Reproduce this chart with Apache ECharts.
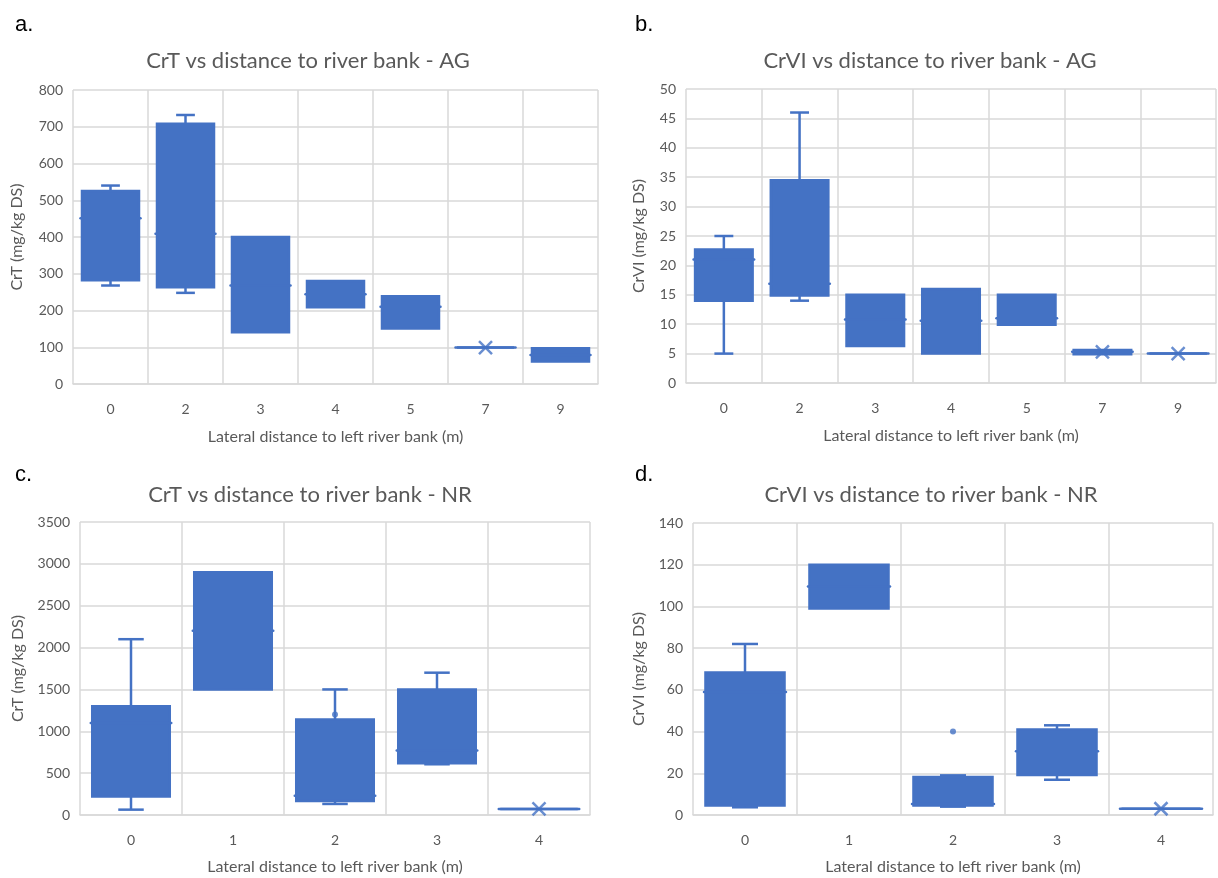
<!DOCTYPE html>
<html>
<head>
<meta charset="utf-8">
<script src="https://cdn.jsdelivr.net/npm/echarts@6/dist/echarts.min.js"></script>
<style>
  html, body { margin: 0; padding: 0; background: #ffffff; }
  #chart { width: 1218px; height: 878px; }
</style>
</head>
<body>
<div id="chart"></div>
<script>
// Category labels (lateral distance to left river bank, m)
const catsAG = ['0', '2', '3', '4', '5', '7', '9'];
const catsNR = ['0', '1', '2', '3', '4'];

// Box statistics per category: [min, Q1, median, Q3, max]
const crtAG = [
  [268, 282, 451, 525, 540],
  [248, 263, 409, 708, 732],
  [141, 141, 268, 400, 400],
  [209, 209, 244, 280, 280],
  [151, 151, 210, 239, 239],
  [99, 99, 99, 99, 99],
  [61, 61, 79, 97, 97]
];
const crviAG = [
  [5, 14, 21, 22.7, 25],
  [14, 14.9, 16.9, 34.5, 46],
  [6.3, 6.3, 10.8, 15, 15],
  [5, 5, 10.6, 16, 16],
  [9.9, 9.9, 11, 15, 15],
  [4.9, 4.9, 5.3, 5.6, 5.6],
  [5, 5, 5, 5, 5]
];
const crtNR = [
  [64, 220, 1100, 1300, 2100],
  [1500, 1500, 2200, 2900, 2900],
  [132, 168, 230, 1140, 1500],
  [606, 618, 770, 1500, 1700],
  [72, 72, 72, 72, 72]
];
const crviNR = [
  [3.7, 4.5, 59, 68.3, 82],
  [99, 99, 109.6, 120, 120],
  [4, 4.5, 5.3, 18.2, 19],
  [16.9, 19.2, 30.6, 41, 43],
  [3, 3, 3, 3, 3]
];

// Mean markers ("x") that show outside the boxes: [category index, mean]
const meanCrtAG = [[5, 99]];
const meanCrviAG = [[5, 5.3], [6, 5]];
const meanCrtNR = [[4, 72]];
const meanCrviNR = [[4, 3]];

// Single points drawn as dots: [category index, value]
const pointsCrtNR = [[2, 1200]];
const pointsCrviNR = [[2, 40]];

// Y axis ranges: [max, interval]
const yCrtAG = [800, 100];
const yCrviAG = [50, 5];
const yCrtNR = [3500, 500];
const yCrviNR = [140, 20];

const BLUE = '#4472C4';
const TEXT = '#595959';
const GRID = '#d9d9d9';
const FONT = 'Lato';
const X_NAME = 'Lateral distance to left river bank (m)';

function renderBox(params, api) {
  const idx = api.value(0);
  const vMin = api.value(1), q1 = api.value(2), med = api.value(3), q3 = api.value(4), vMax = api.value(5);
  const cx = api.coord([idx, 0])[0];
  const band = api.size([1, 0])[0];
  const boxW = band * 0.76;
  const capW = band * 0.25;
  const y = v => api.coord([idx, v])[1];
  const children = [];
  const lineStyle = { stroke: BLUE, lineWidth: 2.5, fill: null };
  // whiskers with end caps
  if (vMax > q3) {
    children.push({ type: 'line', shape: { x1: cx, y1: y(q3), x2: cx, y2: y(vMax) }, style: lineStyle });
    children.push({ type: 'line', shape: { x1: cx - capW / 2, y1: y(vMax), x2: cx + capW / 2, y2: y(vMax) }, style: lineStyle });
  }
  if (vMin < q1) {
    children.push({ type: 'line', shape: { x1: cx, y1: y(q1), x2: cx, y2: y(vMin) }, style: lineStyle });
    children.push({ type: 'line', shape: { x1: cx - capW / 2, y1: y(vMin), x2: cx + capW / 2, y2: y(vMin) }, style: lineStyle });
  }
  // interquartile box
  const top = y(q3), bot = y(q1);
  children.push({
    type: 'rect',
    shape: { x: cx - boxW / 2, y: top, width: boxW, height: Math.max(bot - top, 0) },
    style: { fill: BLUE, stroke: BLUE, lineWidth: 2.5 }
  });
  // median with small end marks
  children.push({
    type: 'line',
    shape: { x1: cx - boxW / 2 - 1.5, y1: y(med), x2: cx + boxW / 2 + 1.5, y2: y(med) },
    style: { stroke: BLUE, lineWidth: 2.5, lineCap: 'round' }
  });
  return { type: 'group', children };
}

const grids = [
  { left: 73, top: 90, width: 525, height: 294 },
  { left: 686, top: 89, width: 530, height: 294 },
  { left: 80, top: 522, width: 510, height: 293 },
  { left: 693, top: 523, width: 520, height: 292 }
];

const yNames = ['CrT (mg/kg DS)', 'CrVI (mg/kg DS)', 'CrT (mg/kg DS)', 'CrVI (mg/kg DS)'];
const yRanges = [yCrtAG, yCrviAG, yCrtNR, yCrviNR];
const yNameGaps = [48, 39, 54, 46];
const xNameGaps = [45, 45, 44, 44];
const xCats = [catsAG, catsAG, catsNR, catsNR];
const boxes = [crtAG, crviAG, crtNR, crviNR];
const means = [meanCrtAG, meanCrviAG, meanCrtNR, meanCrviNR];
const points = [[], [], pointsCrtNR, pointsCrviNR];

const xAxes = xCats.map((cats, i) => ({
  type: 'category',
  gridIndex: i,
  data: cats,
  boundaryGap: true,
  name: X_NAME,
  nameLocation: 'middle',
  nameGap: xNameGaps[i],
  nameTextStyle: { color: TEXT, fontSize: 16, fontFamily: FONT },
  axisLine: { lineStyle: { color: GRID, width: 1.5 } },
  axisTick: { show: false },
  axisLabel: { color: TEXT, fontSize: 14, fontFamily: FONT, margin: 18 },
  splitLine: { show: true, lineStyle: { color: GRID, width: 1.5 } }
}));

const yAxes = yRanges.map((r, i) => ({
  type: 'value',
  gridIndex: i,
  min: 0,
  max: r[0],
  interval: r[1],
  name: yNames[i],
  nameLocation: 'middle',
  nameGap: yNameGaps[i],
  nameRotate: 90,
  nameTextStyle: { color: TEXT, fontSize: 16, fontFamily: FONT },
  axisLine: { show: false },
  axisTick: { show: false },
  axisLabel: { color: TEXT, fontSize: 14, fontFamily: FONT, margin: 10, formatter: v => String(v) },
  splitLine: { show: true, lineStyle: { color: GRID, width: 1.5 } }
}));

const series = [];
boxes.forEach((b, i) => {
  series.push({
    type: 'custom',
    xAxisIndex: i,
    yAxisIndex: i,
    renderItem: renderBox,
    encode: { x: 0, y: [1, 2, 3, 4, 5] },
    data: b.map((s, k) => [k].concat(s)),
    z: 3
  });
  series.push({
    type: 'scatter',
    xAxisIndex: i,
    yAxisIndex: i,
    symbol: 'path://M0,0L10,10M10,0L0,10',
    symbolSize: 13,
    itemStyle: { color: 'rgba(0,0,0,0)', borderColor: BLUE, borderWidth: 2.5 },
    data: means[i],
    z: 4
  });
  if (points[i].length) {
    series.push({
      type: 'scatter',
      xAxisIndex: i,
      yAxisIndex: i,
      symbol: 'circle',
      symbolSize: 6,
      itemStyle: { color: BLUE },
      data: points[i],
      z: 4
    });
  }
});

const titleStyle = { color: TEXT, fontSize: 22, fontWeight: 'normal', fontFamily: FONT };
const tagStyle = { color: '#000000', fontSize: 22, fontWeight: 'normal', fontFamily: 'Liberation Sans' };

const option = {
  backgroundColor: '#ffffff',
  animation: false,
  title: [
    { text: 'CrT vs distance to river bank - AG', left: 303, top: 45, textAlign: 'center', textStyle: titleStyle },
    { text: 'CrVI vs distance to river bank - AG', left: 925, top: 45, textAlign: 'center', textStyle: titleStyle },
    { text: 'CrT vs distance to river bank - NR', left: 305, top: 479, textAlign: 'center', textStyle: titleStyle },
    { text: 'CrVI vs distance to river bank - NR', left: 926, top: 479, textAlign: 'center', textStyle: titleStyle },
    { text: 'a.', left: 10, top: 9, textStyle: tagStyle },
    { text: 'b.', left: 630, top: 9, textStyle: tagStyle },
    { text: 'c.', left: 10, top: 459, textStyle: tagStyle },
    { text: 'd.', left: 630, top: 459, textStyle: tagStyle }
  ],
  grid: grids,
  xAxis: xAxes,
  yAxis: yAxes,
  series: series
};

const chart = echarts.init(document.getElementById('chart'), null, { renderer: 'canvas' });
chart.setOption(option);
</script>
</body>
</html>
